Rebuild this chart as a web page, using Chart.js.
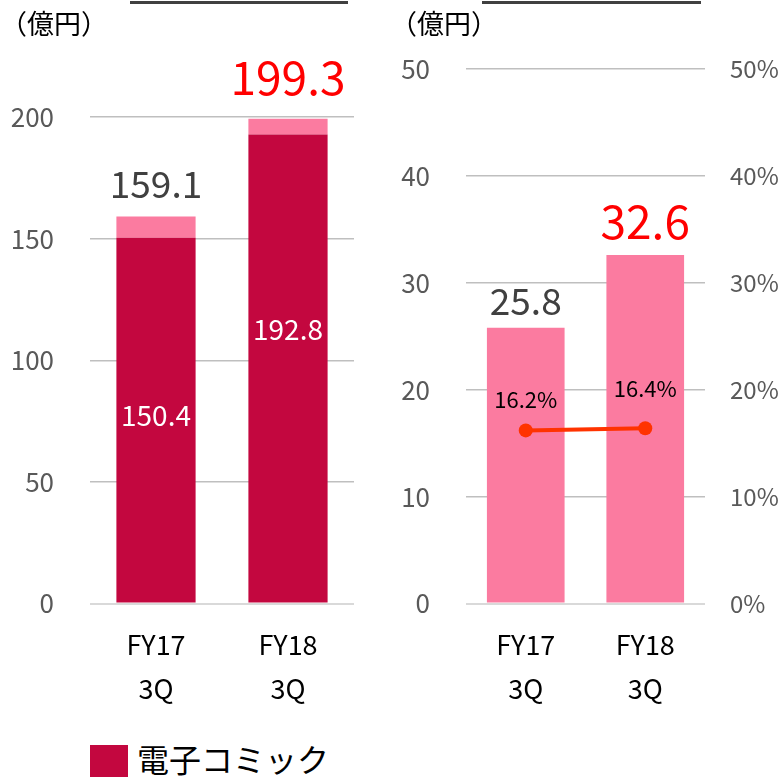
<!DOCTYPE html>
<html>
<head>
<meta charset="utf-8">
<script src="https://cdn.jsdelivr.net/npm/chart.js@4.4.1/dist/chart.umd.min.js"></script>
<style>
  body { margin: 0; background: #fff; font-family: 'Noto Sans CJK JP', 'Noto Sans', sans-serif; }
  #page { position: relative; width: 780px; height: 777px; overflow: hidden; }
  .box { position: absolute; top: 0; width: 390px; height: 732px; }
  .topline { position: absolute; top: 1px; height: 3px; background: #404040; }
  .unit { position: absolute; top: 3px; font-size: 27px; color: #000; }
  .sw { position: absolute; left: 90px; top: 745px; width: 38px; height: 32px; background: #C3073F; }
  .legtext { position: absolute; left: 137px; top: 742px; font-size: 32px; line-height: 1; color: #000; }
</style>
</head>
<body>
<div id="page">
  <div class="topline" style="left:130px;width:218px"></div>
  <div class="topline" style="left:482px;width:219px"></div>
  <div class="box" style="left:0"><canvas id="leftChart"></canvas></div>
  <div class="box" style="left:390px"><canvas id="rightChart"></canvas></div>
  <div class="unit" style="left:0px">（億円）</div>
  <div class="unit" style="left:390px">（億円）</div>
  <div class="sw"></div>
  <div class="legtext">電子コミック</div>
</div>
<script>
// data
const categories = [['FY17', '3Q'], ['FY18', '3Q']]
const denshiComic = [150.4, 192.8]
const otherSales = [8.7, 6.5]
const salesTotals = ['159.1', '199.3']
const profit = [25.8, 32.6]
const margin = [16.2, 16.4]

const FONT = "'Noto Sans CJK JP', 'Noto Sans', sans-serif"
const DARK = '#C3073F'
const PINK = '#FB7BA0'
const labelColors = ['#404040', '#FF0000']
const labelSizes = [37, 46]

const gridColor = ctx => ctx.tick && ctx.tick.value === 0 ? '#D9D9D9' : '#BFBFBF'
const gridWidth = ctx => ctx.tick && ctx.tick.value === 0 ? 2 : 1.5

// labels drawn on top of everything
const valueLabels = {
  id: 'valueLabels',
  afterDatasetsDraw(chart, args, opts) {
    const c = chart.ctx
    c.save()
    c.textAlign = 'center'
    opts.items.forEach(it => {
      const el = chart.getDatasetMeta(it.dataset).data[it.index]
      c.font = `${it.size}px ${FONT}`
      c.fillStyle = it.color
      if (it.inside) {
        c.textBaseline = 'middle'
        c.fillText(it.text, el.x, el.y + it.offset)
      } else {
        c.textBaseline = 'bottom'
        c.fillText(it.text, el.x, el.y - it.offset)
      }
    })
    c.restore()
  }
}

const xScale = {
  grid: { display: false },
  border: { display: false },
  ticks: { color: '#000', font: { family: FONT, size: 27, lineHeight: 1.6 }, padding: 12 }
}

// offsets (px from the bar top)
const leftItems = [
  { dataset: 0, index: 0, text: denshiComic[0].toFixed(1), color: '#fff', size: 28, inside: true, offset: 178 },
  { dataset: 0, index: 1, text: denshiComic[1].toFixed(1), color: '#fff', size: 28, inside: true, offset: 195 },
  { dataset: 1, index: 0, text: salesTotals[0], color: labelColors[0], size: labelSizes[0], offset: 14 },
  { dataset: 1, index: 1, text: salesTotals[1], color: labelColors[1], size: labelSizes[1], offset: 18 }
]

new Chart(document.getElementById('leftChart'), {
  type: 'bar',
  data: {
    labels: categories,
    datasets: [
      { label: '電子コミック', data: denshiComic, backgroundColor: DARK, barPercentage: 0.6, categoryPercentage: 1 },
      { label: 'その他', data: otherSales, backgroundColor: PINK, barPercentage: 0.6, categoryPercentage: 1 }
    ]
  },
  options: {
    responsive: true,
    maintainAspectRatio: false,
    animation: false,
    layout: { padding: { top: 117, right: 36, bottom: 10 } },
    plugins: { legend: { display: false }, tooltip: { enabled: false }, valueLabels: { items: leftItems } },
    scales: {
      x: { ...xScale, stacked: true },
      y: {
        stacked: true, min: 0, max: 200,
        border: { display: false },
        grid: { color: gridColor, lineWidth: gridWidth, drawTicks: false },
        ticks: { stepSize: 50, color: '#595959', font: { family: FONT, size: 26 }, padding: 36 },
        afterFit(scale) { scale.width = 90 }
      }
    }
  },
  plugins: [valueLabels]
})

const rightItems = [
  { dataset: 1, index: 0, text: profit[0].toFixed(1), color: labelColors[0], size: labelSizes[0], offset: 8 },
  { dataset: 1, index: 1, text: profit[1].toFixed(1), color: labelColors[1], size: labelSizes[1], offset: 11 },
  { dataset: 0, index: 0, text: margin[0].toFixed(1) + '%', color: '#000', size: 22, offset: 20 },
  { dataset: 0, index: 1, text: margin[1].toFixed(1) + '%', color: '#000', size: 22, offset: 29 }
]

new Chart(document.getElementById('rightChart'), {
  data: {
    labels: categories,
    datasets: [
      { type: 'line', label: '利益率', data: margin, yAxisID: 'y1', order: 0,
        borderColor: '#FF3300', backgroundColor: '#FF3300', borderWidth: 4,
        pointRadius: 7, pointBackgroundColor: '#FF3300', pointBorderWidth: 0 },
      { type: 'bar', label: '利益', data: profit, yAxisID: 'y', order: 1,
        backgroundColor: PINK, barPercentage: 0.65, categoryPercentage: 1 }
    ]
  },
  options: {
    responsive: true,
    maintainAspectRatio: false,
    animation: false,
    layout: { padding: { top: 69, right: 0, bottom: 10 } },
    plugins: { legend: { display: false }, tooltip: { enabled: false }, valueLabels: { items: rightItems } },
    scales: {
      x: xScale,
      y: {
        position: 'left', min: 0, max: 50,
        border: { display: false },
        grid: { color: gridColor, lineWidth: gridWidth, drawTicks: false },
        ticks: { stepSize: 10, color: '#595959', font: { family: FONT, size: 26 }, padding: 36 },
        afterFit(scale) { scale.width = 76 }
      },
      y1: {
        position: 'right', min: 0, max: 50,
        border: { display: false },
        grid: { display: false, drawTicks: false },
        ticks: { stepSize: 10, color: '#595959', font: { family: FONT, size: 24 }, padding: 25, callback: v => v + '%' },
        afterFit(scale) { scale.width = 75 }
      }
    }
  },
  plugins: [valueLabels]
})
</script>
</body>
</html>
